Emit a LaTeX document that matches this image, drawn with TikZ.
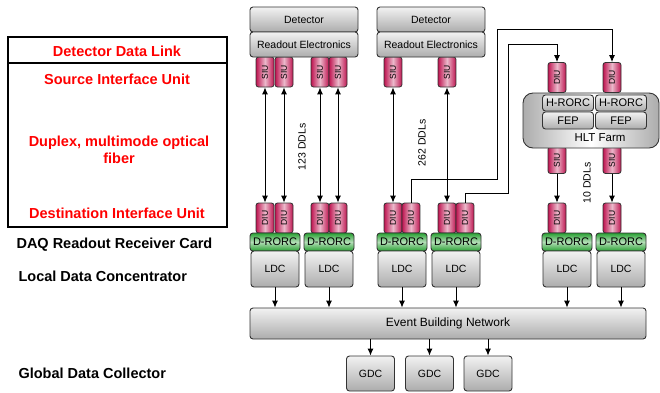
\documentclass[tikz,border=0pt]{standalone}
\usepackage{fontspec}
\setmainfont{Liberation Sans}
\usetikzlibrary{arrows.meta}
\definecolor{siured}{RGB}{190,20,80}
\definecolor{rorcgreen}{RGB}{40,160,50}
\begin{document}
\begin{tikzpicture}[x=1pt,y=-1pt,>={Latex[length=7pt,width=6pt]},
	gbox/.style={draw=black!80, line width=0.9pt, rounded corners=3pt, inner sep=0pt,
		top color=gray!10, bottom color=gray!65, font=\fontsize{10.5}{12}\selectfont},
	link/.style={draw=black!80, line width=0.8pt, rounded corners=2.5pt, inner sep=0pt,
		rotate=90, minimum width=30pt, minimum height=18pt,
		left color=siured, right color=siured, middle color=siured!30,
		font=\fontsize{8.5}{10}\selectfont},
	rorc/.style={draw=black!80, line width=0.9pt, rounded corners=3pt, inner sep=0pt,
		minimum width=50pt, minimum height=18pt,
		top color=rorcgreen, bottom color=rorcgreen, middle color=rorcgreen!35,
		font=\fontsize{11}{12}\selectfont},
	ldcbox/.style={gbox, minimum width=48pt, minimum height=36pt},
	conn/.style={line width=0.9pt},
	legend/.style={font=\bfseries\fontsize{14.5}{17}\selectfont}]
	\useasboundingbox (0,0) rectangle (660,392);

	% legend on the left
	\draw[line width=1.2pt] (8,37) rectangle (227,227);
	\draw[line width=1.2pt] (8,63) -- (227,63);
	\node[legend, text=red] (ddl) at (117,51) {Detector Data Link};
	\node[legend, text=red] (siutxt) at (117,79) {Source Interface Unit};
	\node[legend, text=red, align=center] (fibre) at (119,150) {Duplex, multimode optical\\fiber};
	\node[legend, text=red] (diutxt) at (117,213) {Destination Interface Unit};
	\node[legend, anchor=west] (drorctxt) at (13,245) {DAQ Readout Receiver Card};
	\node[legend, anchor=west] (ldctxt) at (15,276) {Local Data Concentrator};
	\node[legend, anchor=west] (gdctxt) at (15,373) {Global Data Collector};

	% source side: detectors and their SIUs
	\node[link] (siu1) at (265,72) {SIU};
	\node[link] (siu2) at (284,72) {SIU};
	\node[link] (siu3) at (320,72) {SIU};
	\node[link] (siu4) at (338,72) {SIU};
	\node[link] (siu5) at (393,72) {SIU};
	\node[link] (siu6) at (447,72) {SIU};
	\node[gbox, minimum width=108pt, minimum height=25pt] (det1) at (304,19.5) {Detector};
	\node[gbox, minimum width=108pt, minimum height=25pt] (ro1) at (304,44.5) {Readout Electronics};
	\node[gbox, minimum width=108pt, minimum height=25pt] (det2) at (431,19.5) {Detector};
	\node[gbox, minimum width=108pt, minimum height=25pt] (ro2) at (431,44.5) {Readout Electronics};

	% HLT farm
	\node[link] (hdiu1) at (557,77.5) {DIU};
	\node[link] (hdiu2) at (612,77.5) {DIU};
	\node[link, minimum width=27pt] (hsiu1) at (557,160) {SIU};
	\node[link, minimum width=27pt] (hsiu2) at (612,160) {SIU};
	\node[draw=black!80, line width=0.9pt, rounded corners=10pt, minimum width=136pt, minimum height=55pt,
		left color=gray!65, right color=gray!65, middle color=white] (hlt) at (591,120.5) {};
	\node[gbox, minimum width=51pt, minimum height=16pt, font=\fontsize{11}{12}\selectfont] (hrorc1) at (568,103) {H-RORC};
	\node[gbox, minimum width=51pt, minimum height=16pt, font=\fontsize{11}{12}\selectfont] (hrorc2) at (621,103) {H-RORC};
	\node[gbox, minimum width=51pt, minimum height=17pt, font=\fontsize{11}{12}\selectfont] (fep1) at (568,120.5) {FEP};
	\node[gbox, minimum width=51pt, minimum height=17pt, font=\fontsize{11}{12}\selectfont] (fep2) at (621,120.5) {FEP};
	\node[font=\fontsize{11.5}{12}\selectfont] (hltname) at (600,138) {HLT Farm};

	% destination side: DIUs, D-RORCs and LDCs
	\node[link] (diu1) at (265,218) {DIU};
	\node[link] (diu2) at (284,218) {DIU};
	\node[link] (diu3) at (320,218) {DIU};
	\node[link] (diu4) at (338,218) {DIU};
	\node[link] (diu5) at (393,218) {DIU};
	\node[link] (diu6) at (411,218) {DIU};
	\node[link] (diu7) at (447,218) {DIU};
	\node[link] (diu8) at (465,218) {DIU};
	\node[link] (diu9) at (557,218) {DIU};
	\node[link] (diu10) at (612,218) {DIU};
	\node[rorc] (rorc1) at (275,242) {D-RORC};
	\node[rorc] (rorc2) at (329,242) {D-RORC};
	\node[rorc] (rorc3) at (402,242) {D-RORC};
	\node[rorc] (rorc4) at (456,242) {D-RORC};
	\node[rorc] (rorc5) at (567,242) {D-RORC};
	\node[rorc] (rorc6) at (621,242) {D-RORC};
	\node[ldcbox] (ldc1) at (275,269) {LDC};
	\node[ldcbox] (ldc2) at (329,269) {LDC};
	\node[ldcbox] (ldc3) at (402,269) {LDC};
	\node[ldcbox] (ldc4) at (456,269) {LDC};
	\node[ldcbox] (ldc5) at (567,269) {LDC};
	\node[ldcbox] (ldc6) at (621,269) {LDC};

	\node[gbox, minimum width=396pt, minimum height=31pt, font=\fontsize{12}{14}\selectfont] (ebn) at (448,323.5) {Event Building Network};
	\node[gbox, minimum width=48pt, minimum height=35pt] (gdc1) at (370.5,373.5) {GDC};
	\node[gbox, minimum width=48pt, minimum height=35pt] (gdc2) at (429.5,373.5) {GDC};
	\node[gbox, minimum width=48pt, minimum height=35pt] (gdc3) at (488,373.5) {GDC};

	% DDLs
	\draw[conn,<->] (siu1) -- (diu1);
	\draw[conn,<->] (siu2) -- (diu2);
	\draw[conn,<->] (siu3) -- (diu3);
	\draw[conn,<->] (siu4) -- (diu4);
	\draw[conn,<->] (siu5) -- (diu5);
	\draw[conn,<->] (siu6) -- (diu7);
	\draw[conn,->] (diu6.east) |- (497,179) |- (612,29) -- (hdiu2.east);
	\draw[conn,->] (diu8.east) |- (508,193) |- (557,44) -- (hdiu1.east);
	\draw[conn,->] (hsiu1) -- (diu9);
	\draw[conn,->] (hsiu2) -- (diu10);
	\node[rotate=90, font=\fontsize{10.5}{12}\selectfont] (n123) at (302,147) {123 DDLs};
	\node[rotate=90, font=\fontsize{10.5}{12}\selectfont] (n262) at (422,143) {262 DDLs};
	\node[rotate=90, font=\fontsize{10.5}{12}\selectfont] (n10) at (587,183) {10 DDLs};

	% event building
	\foreach \i in {1,...,6}
		\draw[conn,->] (ldc\i.south) -- (ldc\i.south |- ebn.north);
	\foreach \i in {1,2,3}
		\draw[conn,->] (ebn.south -| gdc\i) -- (gdc\i.north);
\end{tikzpicture}
\end{document}
